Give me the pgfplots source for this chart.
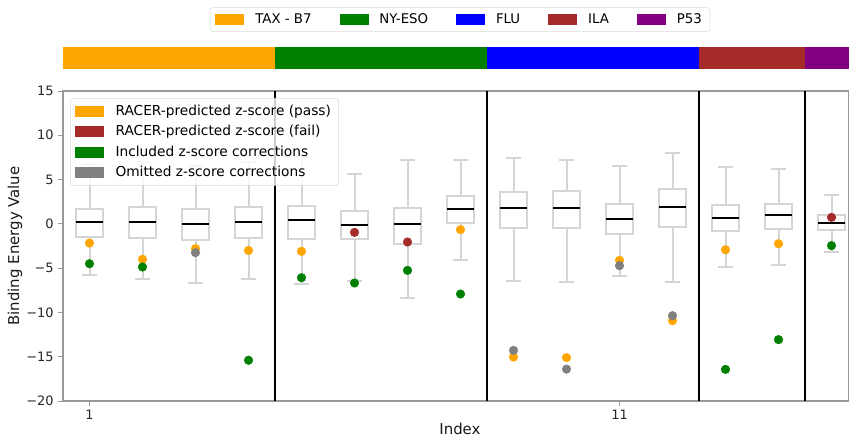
\documentclass[border=0pt]{standalone}
\usepackage{pgfplots}
\pgfplotsset{compat=1.18}
\usepgfplotslibrary{statistics}
\usepackage{fontspec}
\setmainfont{DejaVu Sans}
\definecolor{cOrange}{HTML}{FFA500}
\definecolor{cGreen}{HTML}{008000}
\definecolor{cBlue}{HTML}{0000FF}
\definecolor{cBrown}{HTML}{A52A2A}
\definecolor{cPurple}{HTML}{800080}
\definecolor{cGray}{HTML}{808080}
\definecolor{boxc}{HTML}{D5D5D5}
\definecolor{spine}{HTML}{999999}
\definecolor{legframe}{HTML}{D9D9D9}
\pgfplotsset{
  mybox/.style={boxplot prepared={#1, box extend=0.5, whisker extend=0.28},
    boxplot/draw direction=y,
    draw=boxc, line width=1.5pt, solid, mark=none,
    boxplot/every median/.style={draw=black, line width=1.5pt}},
  dots/.style={only marks, mark=*, mark size=3.2pt, mark options={solid, draw=#1, fill=#1}},
}
\begin{document}
\begin{tikzpicture}
\path[use as bounding box] (0pt,0pt) rectangle (636.75pt,329.25pt);
% colour strip with the group legend
\begin{axis}[at={(47.25pt,277.5pt)}, anchor=south west, scale only axis,
  width=589.5pt, height=16.5pt, xmin=0.5, xmax=15.33, ymin=0, ymax=1, hide axis,
  legend columns=5,
  legend style={at={(0.505,2.25)}, anchor=center, draw=legframe, rounded corners=2pt,
    font=\fontsize{10}{12}\selectfont, inner xsep=4pt, inner ysep=2.5pt,
    /tikz/every even column/.append style={column sep=19pt},
    /tikz/every odd column/.append style={column sep=6.5pt}}]
\addlegendimage{legend image code/.code={\fill[cOrange, sharp corners] (0pt,-3.75pt) rectangle (21pt,3.75pt);}}
\addlegendentry{TAX - B7}
\addlegendimage{legend image code/.code={\fill[cGreen, sharp corners] (0pt,-3.75pt) rectangle (21pt,3.75pt);}}
\addlegendentry{NY-ESO}
\addlegendimage{legend image code/.code={\fill[cBlue, sharp corners] (0pt,-3.75pt) rectangle (21pt,3.75pt);}}
\addlegendentry{FLU}
\addlegendimage{legend image code/.code={\fill[cBrown, sharp corners] (0pt,-3.75pt) rectangle (21pt,3.75pt);}}
\addlegendentry{ILA}
\addlegendimage{legend image code/.code={\fill[cPurple, sharp corners] (0pt,-3.75pt) rectangle (21pt,3.75pt);}}
\addlegendentry{P53}
\addplot[fill=cOrange, draw=none] coordinates {(0.5,0) (0.5,1) (4.5,1) (4.5,0)} -- cycle;
\addplot[fill=cGreen, draw=none] coordinates {(4.5,0) (4.5,1) (8.5,1) (8.5,0)} -- cycle;
\addplot[fill=cBlue, draw=none] coordinates {(8.5,0) (8.5,1) (12.5,1) (12.5,0)} -- cycle;
\addplot[fill=cBrown, draw=none] coordinates {(12.5,0) (12.5,1) (14.5,1) (14.5,0)} -- cycle;
\addplot[fill=cPurple, draw=none] coordinates {(14.5,0) (14.5,1) (15.33,1) (15.33,0)} -- cycle;
\end{axis}
% main axis
\begin{axis}[at={(47.25pt,28.5pt)}, anchor=south west, scale only axis,
  width=589.5pt, height=232.5pt,
  xmin=0.5, xmax=15.33, ymin=-20, ymax=15,
  xtick={1,11}, xticklabels={1,11},
  ytick={-20,-15,-10,-5,0,5,10,15},
  yticklabels={−20,−15,−10,−5,0,5,10,15},
  minor tick num=0,
  tick pos=left, tick align=outside, major tick length=3.5pt,
  tick style={draw=spine, line width=0.6pt},
  axis line style={draw=spine, line width=0.8pt},
  ticklabel style={font=\fontsize{9.7}{11}\selectfont, text=black!85},
  xlabel={Index}, ylabel={Binding Energy Value},
  label style={font=\fontsize{11.2}{13}\selectfont, text=black!90},
  xlabel style={at={(axis description cs:0.505,-0.09)}, anchor=center},
  ylabel style={at={(axis description cs:-0.061,0.5)}, anchor=center},
  legend cell align=left,
  legend style={at={(0.009,0.977)}, anchor=north west, draw=legframe, rounded corners=2pt,
    fill=white, fill opacity=0.8, text opacity=1, draw opacity=1,
    font=\fontsize{10.3}{12}\selectfont, inner xsep=3.5pt, inner ysep=3pt, row sep=2pt,
    /tikz/every odd column/.append style={column sep=7pt}},
]
\addlegendimage{legend image code/.code={\fill[cOrange, fill opacity=1, sharp corners] (0pt,-3.75pt) rectangle (21pt,3.75pt);}}
\addlegendentry{RACER-predicted z-score (pass)}
\addlegendimage{legend image code/.code={\fill[cBrown, fill opacity=1, sharp corners] (0pt,-3.75pt) rectangle (21pt,3.75pt);}}
\addlegendentry{RACER-predicted z-score (fail)}
\addlegendimage{legend image code/.code={\fill[cGreen, fill opacity=1, sharp corners] (0pt,-3.75pt) rectangle (21pt,3.75pt);}}
\addlegendentry{Included z-score corrections}
\addlegendimage{legend image code/.code={\fill[cGray, fill opacity=1, sharp corners] (0pt,-3.75pt) rectangle (21pt,3.75pt);}}
\addlegendentry{Omitted z-score corrections}
% group separators
\addplot[black, line width=1.4pt] coordinates {(4.5,-20) (4.5,15)};
\addplot[black, line width=1.4pt] coordinates {(8.5,-20) (8.5,15)};
\addplot[black, line width=1.4pt] coordinates {(12.5,-20) (12.5,15)};
\addplot[black, line width=1.4pt] coordinates {(14.5,-20) (14.5,15)};
% box plots
\addplot[mybox={draw position=1, lower whisker=-5.8, lower quartile=-1.52, median=0.2, upper quartile=1.72, upper whisker=6.8}] coordinates {};
\addplot[mybox={draw position=2, lower whisker=-6.27, lower quartile=-1.56, median=0.2, upper quartile=1.86, upper whisker=7.0}] coordinates {};
\addplot[mybox={draw position=3, lower whisker=-6.7, lower quartile=-1.8, median=0.02, upper quartile=1.64, upper whisker=6.5}] coordinates {};
\addplot[mybox={draw position=4, lower whisker=-6.27, lower quartile=-1.56, median=0.2, upper quartile=1.86, upper whisker=7.0}] coordinates {};
\addplot[mybox={draw position=5, lower whisker=-6.83, lower quartile=-1.75, median=0.4, upper quartile=2.0, upper whisker=7.54}] coordinates {};
\addplot[mybox={draw position=6, lower whisker=-6.5, lower quartile=-1.75, median=-0.17, upper quartile=1.49, upper whisker=5.62}] coordinates {};
\addplot[mybox={draw position=7, lower whisker=-8.37, lower quartile=-2.24, median=-0.02, upper quartile=1.79, upper whisker=7.17}] coordinates {};
\addplot[mybox={draw position=8, lower whisker=-4.12, lower quartile=0.13, median=1.71, upper quartile=3.14, upper whisker=7.17}] coordinates {};
\addplot[mybox={draw position=9, lower whisker=-6.5, lower quartile=-0.43, median=1.83, upper quartile=3.6, upper whisker=7.47}] coordinates {};
\addplot[mybox={draw position=10, lower whisker=-6.6, lower quartile=-0.43, median=1.83, upper quartile=3.7, upper whisker=7.25}] coordinates {};
\addplot[mybox={draw position=11, lower whisker=-5.85, lower quartile=-1.15, median=0.5, upper quartile=2.28, upper whisker=6.57}] coordinates {};
\addplot[mybox={draw position=12, lower whisker=-6.57, lower quartile=-0.32, median=1.86, upper quartile=3.93, upper whisker=7.96}] coordinates {};
\addplot[mybox={draw position=13, lower whisker=-4.88, lower quartile=-0.81, median=0.7, upper quartile=2.17, upper whisker=6.41}] coordinates {};
\addplot[mybox={draw position=14, lower whisker=-4.61, lower quartile=-0.54, median=0.96, upper quartile=2.28, upper whisker=6.15}] coordinates {};
\addplot[mybox={draw position=15, lower whisker=-3.14, lower quartile=-0.73, median=0.13, upper quartile=1.0, upper whisker=3.3}] coordinates {};
% z-score points
\addplot[dots=cOrange] coordinates {(1,-2.17) (2,-4.0) (3,-2.8) (4,-3.0) (5,-3.1) (8,-0.66) (9,-15.04) (10,-15.1) (11,-4.12) (12,-10.93) (13,-2.92) (14,-2.24)};
\addplot[dots=cBrown] coordinates {(6,-0.96) (7,-2.05) (15,0.73)};
\addplot[dots=cGreen] coordinates {(1,-4.5) (2,-4.87) (4,-15.4) (5,-6.08) (6,-6.68) (7,-5.25) (8,-7.92) (13,-16.43) (14,-13.07) (15,-2.46)};
\addplot[dots=cGray] coordinates {(3,-3.25) (9,-14.28) (10,-16.4) (11,-4.72) (12,-10.37)};
\end{axis}
\end{tikzpicture}
\end{document}
